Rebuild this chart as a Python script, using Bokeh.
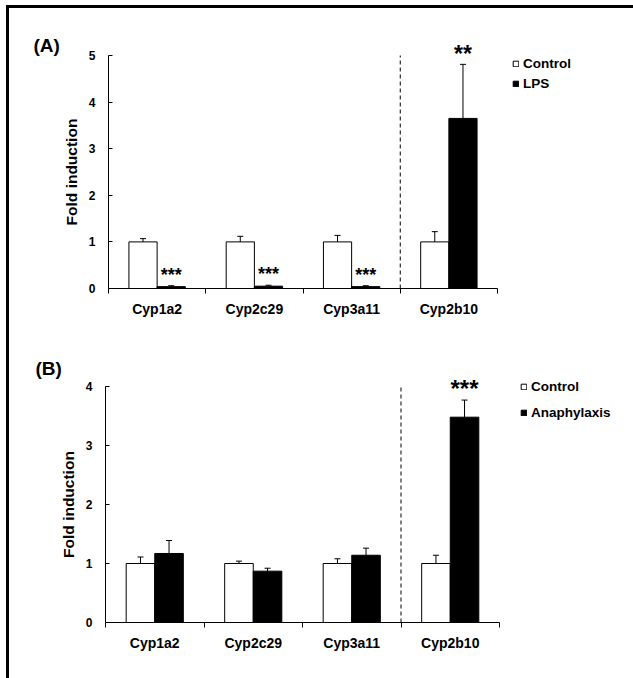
from bokeh.plotting import figure
from bokeh.models import (ColumnDataSource, Whisker, TeeHead, Label,
                          Legend, LegendItem, FixedTicker, Range1d)
from bokeh.layouts import column
from bokeh.embed import file_html
from bokeh.resources import INLINE

# ---------------- data ----------------
categories = ["Cyp1a2", "Cyp2c29", "Cyp3a11", "Cyp2b10"]

a_control = [1.0, 1.0, 1.0, 1.0]
a_control_err = [0.07, 0.12, 0.14, 0.22]
a_lps = [0.04, 0.05, 0.04, 3.65]
a_lps_err = [0.02, 0.02, 0.02, 1.16]
a_sig = ["***", "***", "***", "**"]
a_yticks = [0, 1, 2, 3, 4, 5]

b_control = [1.0, 1.0, 1.0, 1.0]
b_control_err = [0.11, 0.04, 0.08, 0.14]
b_ana = [1.17, 0.87, 1.14, 3.48]
b_ana_err = [0.22, 0.05, 0.12, 0.29]
b_sig = ["", "", "", "***"]
b_yticks = [0, 1, 2, 3, 4]

FONT = "Liberation Sans"
BAR_W = 0.29


def make_panel(letter, ctrl, ctrl_err, trt, trt_err, sig, trt_name, yticks,
               width, height, ax_left, ax_top, ax_w, bottom_border,
               letter_px, legend_px, legend_spacing, star_sizes, star_px):
    n = len(categories)
    ymax = yticks[-1]
    ax_bottom = height - bottom_border
    pxu_x = ax_w / n
    pxu_y = (ax_bottom - ax_top) / ymax
    x0 = -0.5 - ax_left / pxu_x
    x1 = -0.5 + (width - ax_left) / pxu_x
    y0 = -bottom_border / pxu_y
    y1 = ymax + ax_top / pxu_y

    def dx(px):  # canvas px -> data x
        return x0 + px / pxu_x

    def dy(px):  # canvas px from top -> data y
        return y1 - px / pxu_y

    p = figure(width=width, height=height,
               x_range=Range1d(x0, x1), y_range=Range1d(y0, y1),
               output_backend="svg", toolbar_location=None,
               min_border_left=0, min_border_right=0,
               min_border_top=0, min_border_bottom=0)
    p.outline_line_color = None
    p.xgrid.visible = False
    p.ygrid.visible = False
    p.background_fill_color = "white"
    p.border_fill_color = "white"

    idx = list(range(n))
    xc = [i - BAR_W / 2 for i in idx]
    xt = [i + BAR_W / 2 for i in idx]
    src_c = ColumnDataSource(dict(x=xc, top=ctrl,
                                  upper=[v + e for v, e in zip(ctrl, ctrl_err)]))
    src_t = ColumnDataSource(dict(x=xt, top=trt,
                                  upper=[v + e for v, e in zip(trt, trt_err)]))

    r_c = p.vbar(x="x", top="top", bottom=0, width=BAR_W, source=src_c,
                 fill_color="white", line_color="black", line_width=1)
    r_t = p.vbar(x="x", top="top", bottom=0, width=BAR_W, source=src_t,
                 fill_color="black", line_color="black", line_width=1)

    for src in (src_c, src_t):
        w = Whisker(source=src, base="x", lower="top", upper="upper",
                    line_color="black", line_width=1, lower_head=None,
                    upper_head=TeeHead(size=6, line_color="black", line_width=1))
        p.add_layout(w)

    # dashed divider before the last group
    p.segment(x0=[n - 1.5], y0=[0], x1=[n - 1.5], y1=[ymax],
              line_color="black", line_width=1, line_dash="4 3")

    # significance marks
    for i, s in enumerate(sig):
        if not s:
            continue
        p.add_layout(Label(x=xt[i], y=trt[i] + trt_err[i] + star_px[i] / pxu_y,
                           text=s, text_align="center", text_baseline="middle",
                           text_font=FONT, text_font_style="bold",
                           text_font_size=star_sizes[i], text_color="black"))

    # panel letter
    p.add_layout(Label(x=dx(letter_px[0]), y=dy(letter_px[1]), text=letter,
                       text_align="left", text_baseline="middle",
                       text_font=FONT, text_font_style="bold",
                       text_font_size="19px", text_color="black"))

    # axes
    xa = p.xaxis[0]
    xa.fixed_location = 0
    xa.bounds = (-0.5, n - 0.5)
    xa.ticker = FixedTicker(ticks=idx, minor_ticks=[i - 0.5 for i in idx] + [n - 0.5])
    xa.major_label_overrides = {i: c for i, c in enumerate(categories)}
    xa.major_tick_in = 0
    xa.major_tick_out = 0
    xa.minor_tick_in = 0
    xa.minor_tick_out = 5
    xa.minor_tick_line_color = "black"
    xa.axis_line_color = "black"
    xa.major_label_text_font = FONT
    xa.major_label_text_font_style = "bold"
    xa.major_label_text_font_size = "14px"
    xa.major_label_text_color = "black"
    xa.major_label_standoff = 7

    ya = p.yaxis[0]
    ya.fixed_location = -0.5
    ya.bounds = (0, ymax)
    ya.ticker = FixedTicker(ticks=yticks)
    ya.major_tick_in = 4
    ya.major_tick_out = 0
    ya.minor_tick_line_color = None
    ya.major_tick_line_color = "black"
    ya.axis_line_color = "black"
    ya.major_label_text_font = FONT
    ya.major_label_text_font_style = "bold"
    ya.major_label_text_font_size = "12px"
    ya.major_label_text_color = "black"
    ya.major_label_standoff = 13
    ya.axis_label = "Fold induction"
    ya.axis_label_text_font = FONT
    ya.axis_label_text_font_style = "bold"
    ya.axis_label_text_font_size = "15.5px"
    ya.axis_label_text_color = "black"
    ya.axis_label_standoff = 6

    lh = 20
    leg_h = 2 * lh + legend_spacing
    legend = Legend(items=[LegendItem(label="Control", renderers=[r_c]),
                           LegendItem(label=trt_name, renderers=[r_t])],
                    location=(legend_px[0], height - legend_px[1] - leg_h),
                    glyph_width=7, glyph_height=7,
                    label_standoff=4, label_height=lh, spacing=legend_spacing,
                    padding=0, margin=0, border_line_alpha=0,
                    background_fill_alpha=0, label_text_font=FONT,
                    label_text_font_style="bold",
                    label_text_font_size="13.5px", label_text_color="black")
    p.add_layout(legend)
    return p


# canvas A: left 9, top 8 on the page; canvas B: left 9, top 340
pA = make_panel("(A)", a_control, a_control_err, a_lps, a_lps_err, a_sig, "LPS",
                a_yticks, 624, 332, 99, 47, 389, 52,
                (24, 37), (503, 45), 0,
                ["18px", "18px", "18px", "23px"], [11, 11, 11, 10])
pB = make_panel("(B)", b_control, b_control_err, b_ana, b_ana_err, b_sig, "Anaphylaxis",
                b_yticks, 624, 338, 96, 46, 394, 56,
                (26, 28), (511, 36), 6,
                ["18px", "18px", "18px", "24px"], [11, 11, 11, 12])

layout = column(pA, pB, styles={"margin-left": "6px", "margin-top": "5px",
                                "border-top": "3px solid black",
                                "border-left": "3px solid black"})

open("out.html", "w").write(file_html(layout, INLINE))
